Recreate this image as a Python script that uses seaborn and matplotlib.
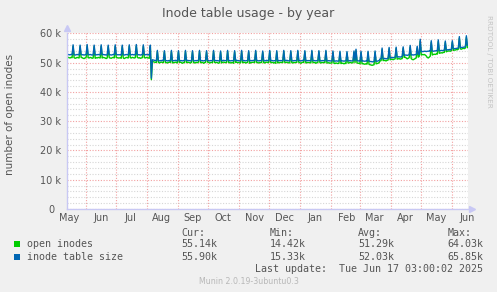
import matplotlib
matplotlib.use("Agg")
import matplotlib.pyplot as plt
import matplotlib.dates as mdates
from matplotlib.ticker import MultipleLocator, FuncFormatter, NullFormatter
from matplotlib.patches import Rectangle
import seaborn as sns
import pandas as pd
import numpy as np

# ---------------- data (daily averages, thousands of inodes) ----------------
start_day = "2024-05-13 12:00"
n_days = 400

inode_table_size_k = [
    52.9, 52.8, 52.7, 52.7, 52.8, 52.7, 56.1,
    52.7, 52.6, 52.7, 52.8, 52.7, 52.7, 56.0,
    52.8, 52.7, 52.7, 52.6, 52.7, 52.8, 56.2,
    52.7, 52.7, 52.8, 52.7, 52.6, 52.7, 56.0,
    52.6, 52.7, 52.7, 52.8, 52.7, 52.7, 56.1,
    52.7, 52.8, 52.7, 52.7, 52.6, 52.7, 56.0,
    52.7, 52.7, 52.6, 52.7, 52.8, 52.7, 56.1,
    52.8, 52.7, 52.7, 52.7, 52.7, 52.6, 56.0,
    52.7, 52.6, 52.7, 52.8, 52.7, 52.7, 56.1,
    52.7, 52.7, 52.8, 52.7, 52.7, 52.7, 56.2,
    52.8, 52.7, 52.7, 52.6, 52.7, 52.7, 56.1,
    52.7, 52.7, 52.8, 52.7, 52.7, 52.6, 56.0,
    44.7, 51.0, 50.9, 50.8, 50.7, 50.7, 54.2,
    50.7, 50.6, 50.7, 50.7, 50.8, 50.7, 54.1,
    50.7, 50.7, 50.6, 50.7, 50.7, 50.7, 54.2,
    50.6, 50.7, 50.7, 50.8, 50.7, 50.6, 54.1,
    50.7, 50.7, 50.7, 50.6, 50.7, 50.7, 54.2,
    50.7, 50.8, 50.7, 50.7, 50.6, 50.7, 54.1,
    50.7, 50.6, 50.7, 50.7, 50.7, 50.8, 54.2,
    50.7, 50.7, 50.7, 50.6, 50.7, 50.7, 54.1,
    50.8, 50.7, 50.6, 50.7, 50.7, 50.7, 54.2,
    50.7, 50.7, 50.7, 50.7, 50.6, 50.7, 54.0,
    50.6, 50.7, 50.8, 50.7, 50.7, 50.7, 54.2,
    50.7, 50.7, 50.6, 50.7, 50.7, 50.6, 54.1,
    50.7, 50.8, 50.7, 50.7, 50.6, 50.7, 54.2,
    50.7, 50.7, 50.7, 50.6, 50.7, 50.7, 54.1,
    50.6, 50.7, 50.7, 50.7, 50.8, 50.7, 54.2,
    50.7, 50.7, 50.6, 50.7, 50.7, 50.7, 54.0,
    50.7, 50.6, 50.7, 50.8, 50.7, 50.7, 54.2,
    50.7, 50.7, 50.7, 50.6, 50.7, 50.6, 54.1,
    50.6, 50.7, 50.7, 50.7, 50.7, 50.7, 54.2,
    50.7, 50.7, 50.8, 50.7, 50.6, 50.7, 54.1,
    50.7, 50.6, 50.7, 50.7, 50.7, 50.7, 54.2,
    50.7, 50.7, 50.6, 50.7, 50.8, 50.7, 54.1,
    50.6, 50.7, 50.7, 50.7, 50.7, 50.6, 54.2,
    50.7, 50.7, 50.7, 50.6, 50.7, 50.7, 54.1,
    50.7, 50.6, 50.7, 50.7, 50.7, 50.7, 54.2,
    50.6, 50.6, 50.7, 50.6, 50.6, 50.6, 54.0,
    50.6, 50.5, 50.6, 50.6, 50.5, 50.6, 53.9,
    50.5, 50.6, 50.6, 50.5, 50.6, 50.6, 53.8,
    50.6, 50.6, 50.7, 50.6, 50.6, 50.7, 54.0,
    50.7, 54.6, 50.7, 50.6, 50.6, 50.5, 53.9,
    50.5, 50.6, 50.5, 50.5, 50.6, 50.5, 53.9,
    50.5, 50.4, 50.4, 50.3, 50.3, 50.4, 54.0,
    50.5, 50.5, 50.6, 50.7, 51.3, 51.3, 55.0,
    51.3, 51.4, 51.4, 51.3, 51.4, 51.5, 55.2,
    51.6, 51.7, 51.8, 51.7, 51.8, 51.9, 55.3,
    51.9, 52.0, 52.0, 51.9, 52.0, 52.1, 55.4,
    52.5, 52.6, 52.6, 52.5, 52.6, 52.7, 55.9,
    52.6, 52.7, 52.6, 52.7, 52.7, 52.8, 55.6,
    52.8, 52.9, 58.0, 53.7, 53.8, 53.8, 53.9,
    53.9, 53.8, 53.9, 53.9, 54.0, 53.9, 57.5,
    54.0, 53.9, 54.0, 54.0, 54.1, 54.0, 57.8,
    54.1, 54.1, 54.2, 54.1, 54.2, 54.2, 57.4,
    54.3, 54.4, 54.4, 54.5, 54.4, 54.5, 57.5,
    54.7, 54.8, 54.8, 54.9, 54.9, 55.0, 58.9,
    55.1, 55.2, 55.2, 55.3, 55.3, 55.4, 59.2,
    55.9,
]

open_inodes_k = [
    51.9, 51.8, 51.7, 51.6, 51.8, 51.7, 55.6,
    51.7, 51.5, 51.6, 51.8, 51.7, 51.6, 55.5,
    51.8, 51.7, 51.5, 51.4, 51.6, 51.8, 55.7,
    51.7, 51.6, 51.8, 51.7, 51.5, 51.6, 55.5,
    51.5, 51.7, 51.6, 51.8, 51.7, 51.6, 55.6,
    51.6, 51.8, 51.7, 51.6, 51.4, 51.6, 55.5,
    51.7, 51.6, 51.5, 51.7, 51.8, 51.6, 55.6,
    51.8, 51.7, 51.6, 51.6, 51.7, 51.5, 55.5,
    51.6, 51.4, 51.6, 51.8, 51.7, 51.6, 55.6,
    51.7, 51.6, 51.8, 51.7, 51.6, 51.7, 55.7,
    51.8, 51.6, 51.7, 51.5, 51.6, 51.7, 55.6,
    51.7, 51.6, 51.8, 51.7, 51.6, 51.5, 55.5,
    44.2, 50.4, 50.3, 50.2, 50.1, 50.1, 53.8,
    50.1, 49.9, 50.1, 50.2, 50.1, 50.0, 53.7,
    50.1, 50.0, 49.9, 50.1, 50.2, 50.1, 53.8,
    49.9, 50.1, 50.0, 50.2, 50.1, 49.9, 53.7,
    50.1, 50.2, 50.0, 49.8, 50.0, 50.1, 53.8,
    50.0, 50.2, 50.1, 50.0, 49.9, 50.1, 53.7,
    50.1, 49.9, 50.0, 50.1, 50.0, 50.2, 53.8,
    50.0, 50.1, 50.1, 49.8, 50.0, 50.1, 53.7,
    50.2, 50.1, 49.9, 50.0, 50.1, 50.0, 53.8,
    50.1, 50.0, 50.1, 50.0, 49.8, 50.0, 53.6,
    49.9, 50.1, 50.2, 50.1, 50.0, 50.1, 53.8,
    50.0, 50.1, 49.9, 50.0, 50.1, 49.8, 53.7,
    50.1, 50.2, 50.0, 50.1, 49.9, 50.0, 53.8,
    50.0, 50.1, 50.1, 49.9, 50.0, 50.1, 53.7,
    49.8, 50.0, 50.1, 50.1, 50.2, 50.0, 53.8,
    50.1, 50.0, 49.9, 50.1, 50.0, 50.1, 53.6,
    50.0, 49.9, 50.1, 50.2, 50.1, 50.0, 53.8,
    50.1, 50.0, 50.1, 49.9, 50.0, 49.8, 53.7,
    49.9, 50.1, 50.0, 50.1, 50.1, 50.0, 53.8,
    50.1, 50.0, 50.2, 50.1, 49.9, 50.0, 53.7,
    50.0, 49.9, 50.1, 50.0, 50.1, 50.1, 53.8,
    50.1, 50.0, 49.8, 50.0, 50.2, 50.1, 53.7,
    49.9, 50.0, 50.1, 50.0, 50.1, 49.9, 53.8,
    50.1, 50.0, 50.1, 49.8, 50.0, 50.1, 53.7,
    50.0, 49.9, 50.1, 50.0, 50.1, 50.0, 53.8,
    49.9, 49.9, 50.0, 49.8, 49.9, 49.9, 53.5,
    49.8, 49.7, 49.9, 49.8, 49.7, 49.8, 53.4,
    49.7, 49.8, 49.8, 49.6, 49.8, 49.7, 53.3,
    49.9, 49.9, 50.1, 50.0, 49.9, 50.0, 53.5,
    50.0, 54.0, 49.9, 49.8, 49.8, 49.6, 53.4,
    49.6, 49.7, 49.5, 49.5, 49.6, 49.5, 53.4,
    49.4, 49.3, 49.2, 49.1, 49.2, 49.3, 53.5,
    49.6, 49.7, 49.8, 50.0, 50.6, 50.7, 54.4,
    50.7, 50.8, 50.7, 50.6, 50.8, 50.9, 54.7,
    51.0, 51.1, 51.2, 51.0, 51.2, 51.3, 54.8,
    51.2, 51.3, 51.4, 51.2, 51.3, 51.4, 54.9,
    51.8, 51.9, 51.6, 51.3, 51.5, 51.7, 55.3,
    51.4, 51.1, 51.0, 51.2, 51.4, 51.6, 55.0,
    51.9, 52.1, 57.3, 52.6, 52.8, 52.7, 52.8,
    52.6, 52.3, 51.8, 51.6, 51.9, 52.2, 56.9,
    52.6, 52.8, 52.9, 52.8, 53.0, 52.9, 57.2,
    53.2, 53.3, 53.4, 53.3, 53.5, 53.5, 56.9,
    53.7, 53.9, 54.0, 54.0, 53.9, 54.1, 57.0,
    54.2, 54.3, 54.3, 54.5, 54.4, 54.6, 58.3,
    54.7, 54.6, 54.8, 54.9, 54.8, 55.0, 58.6,
    55.1,
]

series_names = ["open inodes", "inode table size"]
series_colors = ["#00cc00", "#0066b3"]
legend_cur = ["55.14k", "55.90k"]
legend_min = ["14.42k", "15.33k"]
legend_avg = ["51.29k", "52.03k"]
legend_max = ["64.03k", "65.85k"]
month_labels_fmt = "%b"
title = "Inode table usage - by year"
ylabel = "number of open inodes"
last_update = "Last update:  Tue Jun 17 03:00:02 2025"
footer = "Munin 2.0.19-3ubuntu0.3"
side_text = "RRDTOOL / TOBI OETIKER"

# ---------------- build frame ----------------
dates = pd.date_range(start_day, periods=n_days, freq="D")
df = pd.concat([
    pd.DataFrame({"date": dates, "value": np.array(open_inodes_k) * 1000, "series": series_names[0]}),
    pd.DataFrame({"date": dates, "value": np.array(inode_table_size_k) * 1000, "series": series_names[1]}),
], ignore_index=True)

sns.set_theme(style="white")
plt.rcParams["font.family"] = ["DejaVu Sans"]

BG = "#f0f0f0"
TXT = "#555555"
W, H = 497, 292
fig = plt.figure(figsize=(W / 100, H / 100), dpi=100, facecolor=BG)

def fx(px):
    return px / W

def fy(py):
    return 1 - py / H

left, right, top, bottom = 66.7, 468.0, 33.4, 209.0
ax = fig.add_axes([fx(left), fy(bottom), fx(right - left), (bottom - top) / H])
ax.set_facecolor("white")

sns.lineplot(data=df, x="date", y="value", hue="series", hue_order=series_names,
             palette=series_colors, linewidth=1.0, legend=False, ax=ax)

ax.set_xlim(pd.Timestamp("2024-05-13 03:00"), pd.Timestamp("2025-06-17 03:00"))
ax.set_ylim(0, 60000)
ax.set_xlabel("")
ax.set_ylabel("")

# grids
major_c = "#f2a0a0"
minor_c = "#d6d6d6"
ax.yaxis.set_major_locator(MultipleLocator(10000))
ax.yaxis.set_minor_locator(MultipleLocator(2000))
ax.yaxis.set_major_formatter(FuncFormatter(lambda v, p: f"{int(round(v / 1000))} k" if v else "0  "))
ax.xaxis.set_major_locator(mdates.MonthLocator(bymonthday=1))
ax.xaxis.set_major_formatter(NullFormatter())
ax.xaxis.set_minor_locator(mdates.MonthLocator(bymonthday=16))
ax.xaxis.set_minor_formatter(mdates.DateFormatter(month_labels_fmt))
ax.set_axisbelow(True)
ax.grid(which="major", axis="both", color=major_c, linestyle=(0, (1, 1.5)), linewidth=0.8)
ax.grid(which="minor", axis="y", color=minor_c, linestyle=(0, (1, 1.5)), linewidth=0.8)

ax.tick_params(axis="x", which="major", length=0, pad=2)
ax.tick_params(axis="x", which="minor", length=0, pad=3, labelsize=7, labelcolor=TXT)
ax.tick_params(axis="y", which="major", length=0, pad=4, labelsize=7, labelcolor=TXT)
ax.tick_params(axis="y", which="minor", length=0)

for s in ["top", "right"]:
    ax.spines[s].set_visible(False)
for s in ["left", "bottom"]:
    ax.spines[s].set_color("#c8c8f4")
    ax.spines[s].set_linewidth(1.0)

# axis arrows
ax.plot([0], [1.03], marker="^", markersize=4, color="#c8c8f4", transform=ax.transAxes, clip_on=False)
ax.plot([1.01], [0], marker=">", markersize=4, color="#c8c8f4", transform=ax.transAxes, clip_on=False)

# texts
fig.text(fx(248), fy(14), title, ha="center", va="center", fontsize=9, color=TXT)
fig.text(fx(10), fy(114.7), ylabel, ha="center", va="center", rotation=90, fontsize=7.5, color=TXT)
fig.text(fx(489.5), fy(61), side_text, ha="center", va="center", rotation=270, fontsize=5.2, color="#c4c4c4")

mono = "DejaVu Sans Mono"
ms = 7.2
cols = [181.7, 270.0, 358.3, 447.3]
for x, h in zip(cols, ["Cur:", "Min:", "Avg:", "Max:"]):
    fig.text(fx(x), fy(233), h, ha="left", va="center", family=mono, fontsize=ms, color=TXT)
rows_y = [244.3, 256.5]
for i, name in enumerate(series_names):
    y = rows_y[i]
    fig.patches.append(Rectangle((fx(14), fy(y + 3)), fx(6), 6 / H, transform=fig.transFigure,
                                 facecolor=series_colors[i], edgecolor="none"))
    fig.text(fx(26.7), fy(y), name, ha="left", va="center", family=mono, fontsize=ms, color=TXT)
    for x, v in zip(cols, [legend_cur[i], legend_min[i], legend_avg[i], legend_max[i]]):
        fig.text(fx(x), fy(y), v, ha="left", va="center", family=mono, fontsize=ms, color=TXT)
fig.text(fx(483), fy(269), last_update, ha="right", va="center", family=mono, fontsize=ms, color=TXT)
fig.text(fx(248.5), fy(281), footer, ha="center", va="center", fontsize=5.7, color="#b8b8b8")

fig.savefig("out.png", dpi=100, facecolor=BG)
